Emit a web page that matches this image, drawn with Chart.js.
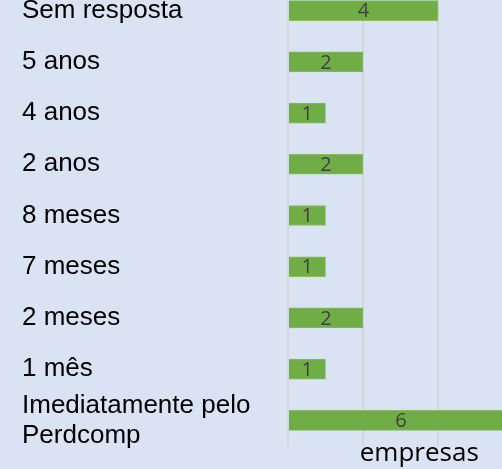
<!DOCTYPE html>
<html>
<head>
<meta charset="utf-8">
<script src="https://cdn.jsdelivr.net/npm/chart.js@4/dist/chart.umd.min.js"></script>
<style>
  html, body { margin: 0; padding: 0; }
  body { width: 502px; height: 469px; overflow: hidden; background: #dae3f3; position: relative; }
  #wrap { position: absolute; left: 0; top: -15px; width: 560px; height: 484px; }
</style>
</head>
<body>
<div id="wrap"><canvas id="myChart"></canvas></div>
<script>
const categories = ["Sem resposta", "5 anos", "4 anos", "2 anos", "8 meses", "7 meses", "2 meses", "1 mês", ["Imediatamente pelo", "Perdcomp"]];
const empresas = [4, 2, 1, 2, 1, 1, 2, 1, 6];
const axisTitle = "empresas";

// numbers written inside each bar
const barValues = {
    id: "barValues",
    afterDatasetsDraw(chart) {
        const ctx = chart.ctx;
        const meta = chart.getDatasetMeta(0);
        ctx.save();
        ctx.font = "20px 'Open Sans'";
        ctx.fillStyle = "#404040";
        ctx.textAlign = "center";
        ctx.textBaseline = "middle";
        meta.data.forEach((bar, i) => {
            ctx.fillText(empresas[i], (bar.x + bar.base) / 2, bar.y + 1);
        });
        ctx.restore();
    },
};

const ctx = document.getElementById("myChart");
const myChart = new Chart(ctx, {
    type: "bar",
    data: {
        labels: categories,
        datasets: [
            {
                data: empresas,
                backgroundColor: "#70ad47",
                borderColor: "#86bb63",
                borderWidth: 1,
                barThickness: 20,
            },
        ],
    },
    plugins: [barValues],
    options: {
        indexAxis: "y",
        responsive: true,
        maintainAspectRatio: false,
        animation: false,
        layout: { padding: { left: 22, right: 9.5, top: 0, bottom: 0 } },
        plugins: {
            legend: { display: false },
            tooltip: { enabled: false },
        },
        scales: {
            x: {
                min: 0,
                max: 7,
                ticks: { display: false, stepSize: 2 },
                grid: { color: "#d3d6da", lineWidth: 2, drawTicks: false },
                border: { display: false },
                title: {
                    display: true,
                    text: axisTitle,
                    color: "#000000",
                    font: { family: "'Open Sans'", size: 26, lineHeight: 1.2 },
                    padding: 0,
                },
                afterFit(scale) {
                    scale.height = 23;
                },
            },
            y: {
                grid: { display: false },
                border: { display: false },
                ticks: {
                    autoSkip: false,
                    crossAlign: "far",
                    color: "#000000",
                    font: { family: "'Liberation Sans', Arial", size: 26, lineHeight: 1.15 },
                },
                afterFit(scale) {
                    scale.width = 266;
                    scale.paddingTop = 0;
                    scale.paddingBottom = 0;
                },
            },
        },
    },
});
</script>
</body>
</html>
